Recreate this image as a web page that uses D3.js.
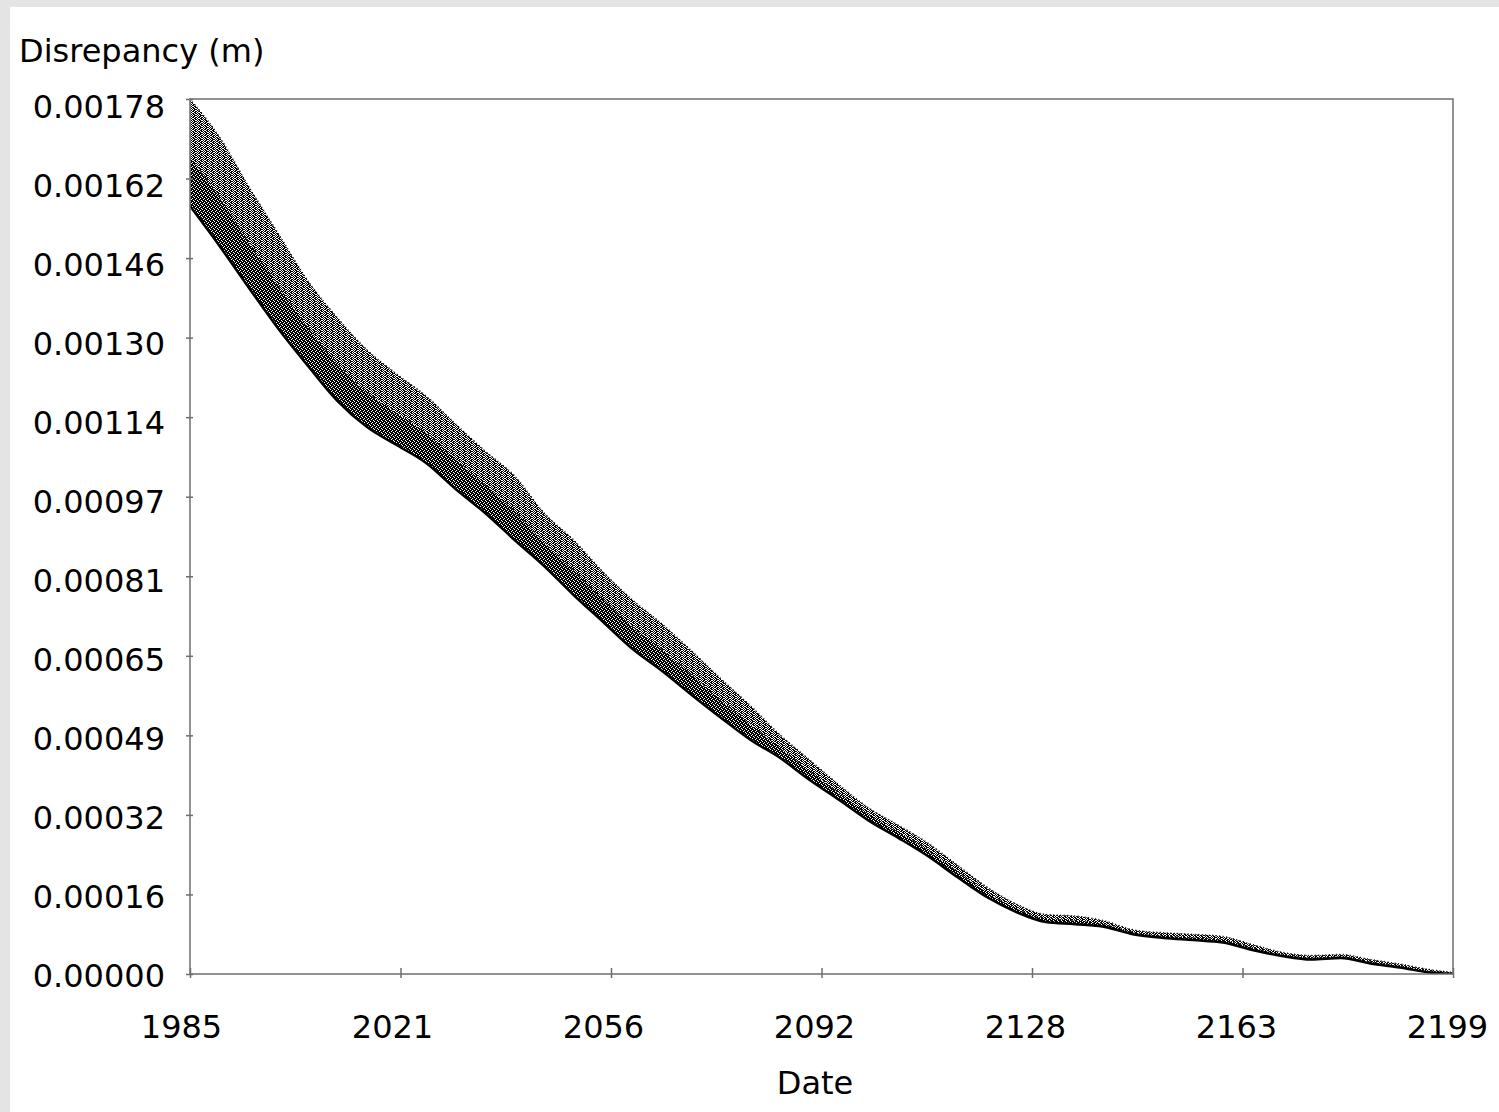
<!DOCTYPE html>
<html>
<head>
<meta charset="utf-8">
<title>Disrepancy</title>
<script src="https://cdn.jsdelivr.net/npm/d3@7"></script>
<style>
  html, body { margin: 0; padding: 0; background: #e4e4e4; }
  svg { display: block; }
  text { font-family: "DejaVu Sans", sans-serif; fill: #000; }
</style>
</head>
<body>
<div id="chart"></div>
<script>
// Envelope of the scatter, every 5 years
const years = [1985, 1990, 1995, 2000, 2005, 2010, 2015, 2020, 2025, 2030,
               2035, 2040, 2045, 2050, 2055, 2060, 2065, 2070, 2075, 2080,
               2085, 2090, 2095, 2100, 2105, 2110, 2115, 2120, 2125, 2130,
               2135, 2140, 2145, 2150, 2155, 2160, 2165, 2170, 2175, 2180,
               2185, 2190, 2195, 2199];

const upper = [0.0017800, 0.0017027, 0.0016010, 0.0015054, 0.0014098, 0.0013345, 0.0012694, 0.0012206, 0.0011758, 0.0011189,
               0.0010639, 0.0010131, 0.0009378, 0.0008829, 0.0008178, 0.0007608, 0.0007120, 0.0006571, 0.0006001, 0.0005452,
               0.0004862, 0.0004353, 0.0003845, 0.0003377, 0.0003030, 0.0002665, 0.0002217, 0.0001770, 0.0001424, 0.0001210,
               0.0001180, 0.0001078, 0.0000895, 0.0000838, 0.0000807, 0.0000763, 0.0000600, 0.0000443, 0.0000376, 0.0000397,
               0.0000295, 0.0000203, 0.0000091, 0.0000030];

const lower = [0.0015623, 0.0014810, 0.0013955, 0.0013121, 0.0012369, 0.0011656, 0.0011128, 0.0010761, 0.0010395, 0.0009866,
               0.0009378, 0.0008829, 0.0008300, 0.0007710, 0.0007161, 0.0006611, 0.0006164, 0.0005676, 0.0005208, 0.0004760,
               0.0004394, 0.0003947, 0.0003540, 0.0003120, 0.0002770, 0.0002400, 0.0001973, 0.0001566, 0.0001261, 0.0001058,
               0.0001013, 0.0000956, 0.0000804, 0.0000733, 0.0000690, 0.0000641, 0.0000488, 0.0000366, 0.0000295, 0.0000326,
               0.0000214, 0.0000132, 0.0000031, 0.0000000];

// Tick labels as printed on the chart
const yTickLabels = ["0.00000", "0.00016", "0.00032", "0.00049", "0.00065", "0.00081",
                     "0.00097", "0.00114", "0.00130", "0.00146", "0.00162", "0.00178"];
const xTickLabels = ["1985", "2021", "2056", "2092", "2128", "2163", "2199"];

const yMax = 0.00178;
const xMin = 1985, xMax = 2199;

const W = 1499, H = 1112;
const margin = { top: 99, right: 46, bottom: 138, left: 190 };
const width = W - margin.left - margin.right;
const height = H - margin.top - margin.bottom;

const data = years.map((yr, i) => ({ year: yr, hi: upper[i], lo: lower[i] }));

const svg = d3.select("#chart")
    .append("svg")
    .attr("width", W)
    .attr("height", H);

// white sheet over the grey page
svg.append("rect")
    .attr("x", 10).attr("y", 7)
    .attr("width", W - 10).attr("height", H - 7)
    .attr("fill", "#fff");

const defs = svg.append("defs");

// stipple texture for the band of points
const dotsLight = defs.append("pattern")
    .attr("id", "dotsLight")
    .attr("width", 6).attr("height", 6)
    .attr("patternUnits", "userSpaceOnUse");
const lightPix = [[0,0],[2,0],[3,0],[5,0],[1,1],[4,1],[5,1],[0,2],[2,2],[3,2],[5,2],
                  [1,3],[3,3],[4,3],[0,4],[2,4],[4,4],[5,4],[1,5],[3,5],[4,5]];
dotsLight.selectAll("rect").data(lightPix).enter().append("rect")
    .attr("x", d => d[0]).attr("y", d => d[1])
    .attr("width", 1).attr("height", 1)
    .attr("fill", "#000");

const dotsDark = defs.append("pattern")
    .attr("id", "dotsDark")
    .attr("width", 4).attr("height", 4)
    .attr("patternUnits", "userSpaceOnUse");
dotsDark.append("rect").attr("width", 4).attr("height", 4).attr("fill", "#000");
dotsDark.selectAll("rect.hole").data([[1,0],[3,1],[0,2],[2,3]]).enter().append("rect")
    .attr("class", "hole")
    .attr("x", d => d[0]).attr("y", d => d[1])
    .attr("width", 1).attr("height", 1)
    .attr("fill", "#fff");

defs.append("clipPath").attr("id", "plotClip")
    .append("rect").attr("width", width).attr("height", height);

const g = svg.append("g")
    .attr("transform", "translate(" + margin.left + "," + margin.top + ")");

// Scales
const x = d3.scaleLinear().domain([xMin, xMax]).range([0, width]);
const y = d3.scaleLinear().domain([0, yMax]).range([height, 0]);

// labels sit a little off their ticks in the original
const xLabelScale = x.copy().range([181 - margin.left, 1447 - margin.left]);
const yLabelScale = y.copy().range([975 - margin.top, 105.4 - margin.top]);

const yTickValues = yTickLabels.map((_, i) => yMax * i / (yTickLabels.length - 1));
const xTickValues = xTickLabels.map((_, i) => xMin + (xMax - xMin) * i / (xTickLabels.length - 1));

// Band of points
const marks = g.append("g").attr("clip-path", "url(#plotClip)");

const band = d3.area()
    .x(d => x(d.year))
    .y0(d => y(d.lo))
    .y1(d => y(d.hi))
    .curve(d3.curveMonotoneX);

marks.append("path")
    .datum(data)
    .attr("d", band)
    .attr("fill", "url(#dotsLight)");

// denser points along the lower edge
const lowerBand = d3.area()
    .x(d => x(d.year))
    .y0(d => y(d.lo))
    .y1(d => y(d.lo + (d.hi - d.lo) * 0.45))
    .curve(d3.curveMonotoneX);

marks.append("path")
    .datum(data)
    .attr("d", lowerBand)
    .attr("fill", "url(#dotsDark)");

marks.append("path")
    .datum(data)
    .attr("d", d3.line().x(d => x(d.year)).y(d => y(d.lo)).curve(d3.curveMonotoneX))
    .attr("fill", "none")
    .attr("stroke", "#000")
    .attr("stroke-width", 2.5);

marks.append("path")
    .datum(data)
    .attr("d", d3.line().x(d => x(d.year)).y(d => y(d.hi)).curve(d3.curveMonotoneX))
    .attr("fill", "none")
    .attr("stroke", "#000")
    .attr("stroke-width", 1.5)
    .attr("stroke-dasharray", "1 2.5");

// Plot frame
g.append("rect")
    .attr("width", width)
    .attr("height", height)
    .attr("fill", "none")
    .attr("stroke", "#6e6e6e")
    .attr("stroke-width", 1.5);

// y-axis
const yAxis = g.append("g")
    .call(d3.axisLeft(y)
        .tickValues(yTickValues)
        .tickFormat((d, i) => yTickLabels[i])
        .tickSizeOuter(0));
yAxis.select(".domain").remove();
yAxis.selectAll(".tick line")
    .attr("x1", 3).attr("x2", -4)
    .attr("stroke", "#6e6e6e").attr("stroke-width", 1.5);
yAxis.selectAll(".tick text")
    .attr("x", -25)
    .attr("y", d => yLabelScale(d) - y(d))
    .attr("dy", "0.365em")
    .style("font-size", "32px")
    .style("font-family", "DejaVu Sans, sans-serif")
    .attr("fill", "#000");

// x-axis
const xAxis = g.append("g")
    .attr("transform", "translate(0," + height + ")")
    .call(d3.axisBottom(x)
        .tickValues(xTickValues)
        .tickFormat((d, i) => xTickLabels[i])
        .tickSizeOuter(0));
xAxis.select(".domain").remove();
xAxis.selectAll(".tick line")
    .attr("y1", -6).attr("y2", 4)
    .attr("stroke", "#6e6e6e").attr("stroke-width", 1.5);
xAxis.selectAll(".tick text")
    .attr("x", d => xLabelScale(d) - x(d))
    .attr("y", 64)
    .attr("dy", 0)
    .style("font-size", "32px")
    .style("font-family", "DejaVu Sans, sans-serif")
    .attr("fill", "#000");

// axis titles
svg.append("text")
    .attr("x", 19)
    .attr("y", 62)
    .style("font-size", "32px")
    .text("Disrepancy (m)");

svg.append("text")
    .attr("x", 815)
    .attr("y", 1094)
    .attr("text-anchor", "middle")
    .style("font-size", "32px")
    .text("Date");
</script>
</body>
</html>
